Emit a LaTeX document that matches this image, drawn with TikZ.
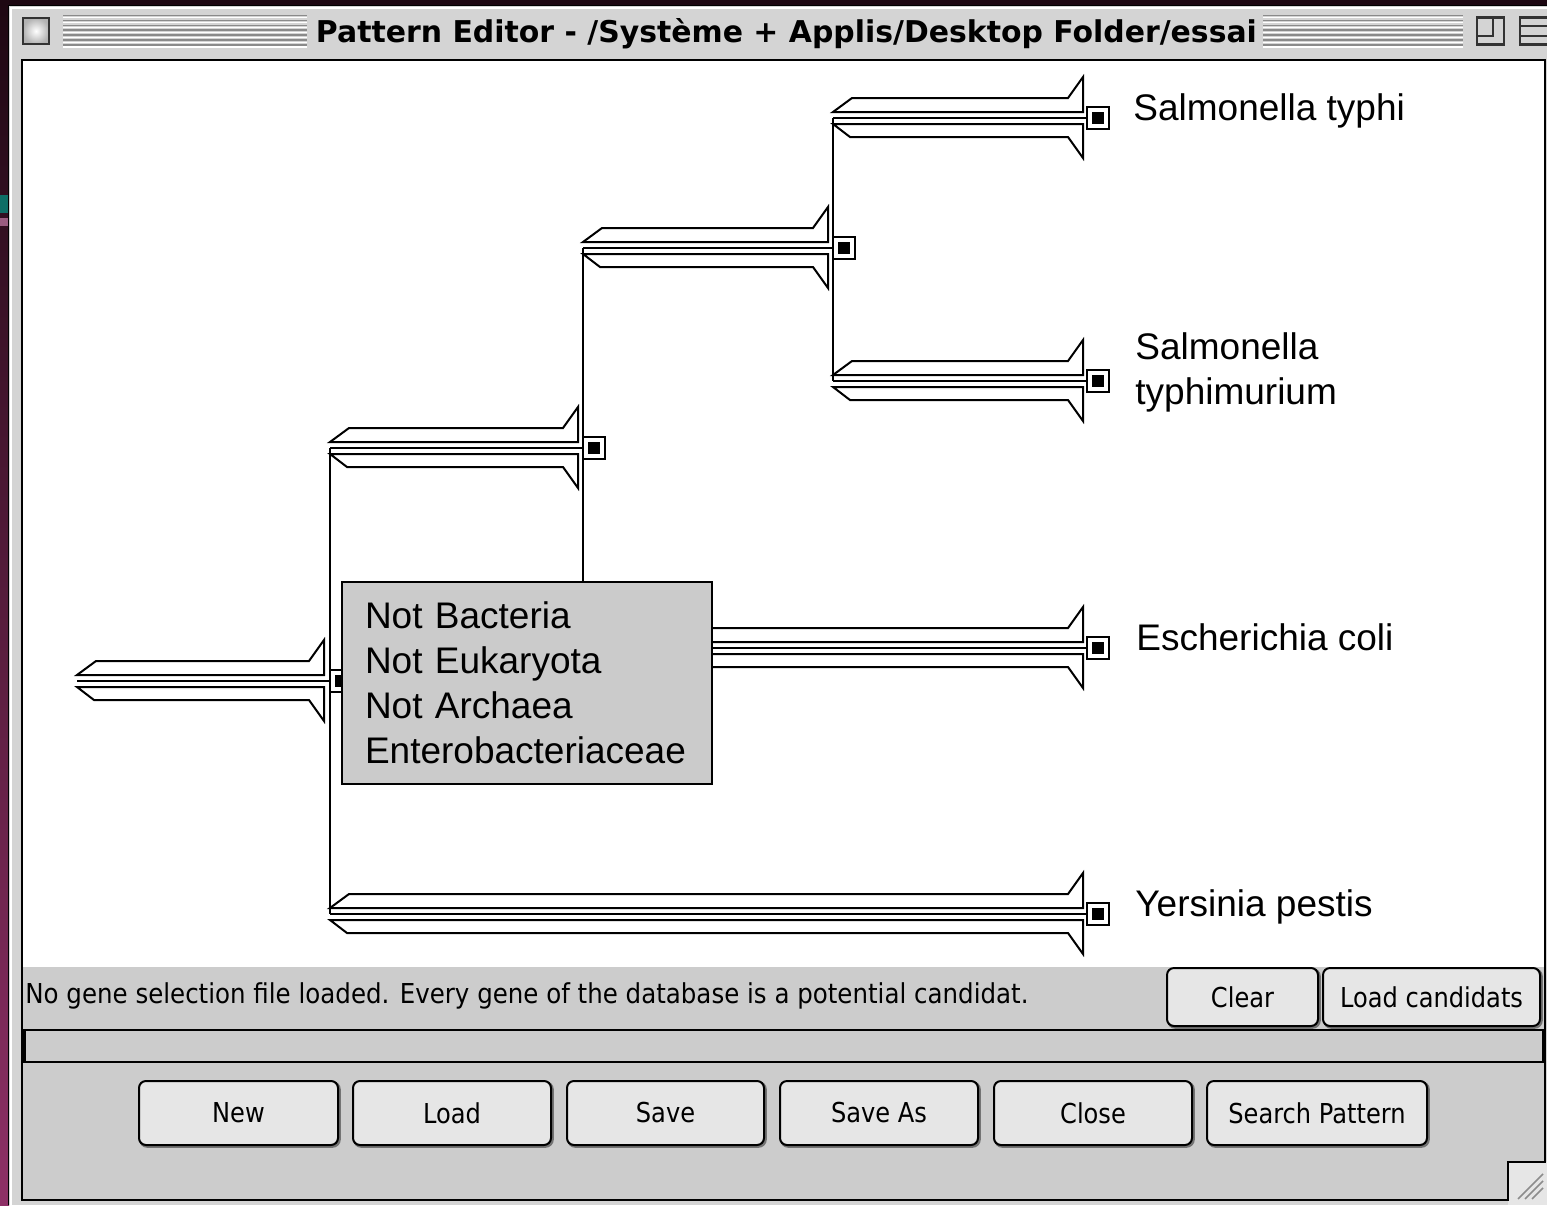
\documentclass[tikz,border=0pt]{standalone}
\usepackage{graphicx}
\usepackage{fontspec}
\setmainfont{Liberation Sans}
\newfontfamily\uifont{DejaVu Sans}

\definecolor{deskDark}{HTML}{1C0711}
\definecolor{deskTop}{HTML}{1E0812}
\definecolor{deskBottom}{HTML}{8E3066}
\definecolor{deskTeal}{HTML}{0E6E66}
\definecolor{deskPink}{HTML}{9A5C80}
\definecolor{winGray}{HTML}{D4D4D4}
\definecolor{panelGray}{HTML}{CCCCCC}
\definecolor{filterGray}{HTML}{CBCBCB}
\definecolor{btnFill}{HTML}{E6E6E6}
\definecolor{stripeGray}{HTML}{8A8A8A}

% one edge of the tree: start x, flare x, centre y (pixel units, y down)
\newcommand{\treebranch}[3]{%
  \draw[branchline] ({#1},{#3-6}) -- ({#1+19},{#3-20}) -- ({#2-15},{#3-20})
        -- ({#2},{#3-41}) -- ({#2},{#3-6}) -- cycle;
  \draw[branchline] ({#1},{#3+6}) -- ({#1+17},{#3+19}) -- ({#2-15},{#3+19})
        -- ({#2},{#3+40}) -- ({#2},{#3+6}) -- cycle;
  \draw[stemline] ({#1},{#3}) -- ({#2+6},{#3});
}
\newcommand{\btntext}[1]{\scalebox{0.88}[1]{#1}}

\begin{document}
\begin{tikzpicture}[x=0.5pt,y=-0.5pt,
  branchline/.style={draw=black, fill=white, line width=1pt, line join=miter},
  stemline/.style={draw=black, line width=1.3pt},
  joinline/.style={draw=black, line width=1pt},
  knob/.style={draw=black, line width=1pt, fill=white, minimum size=11pt,
    inner sep=0pt, path picture={\fill[black]
      ([shift={(2.4pt,2.4pt)}]path picture bounding box.south west) rectangle
      ([shift={(-2.4pt,-2.4pt)}]path picture bounding box.north east);}},
  leaflabel/.style={anchor=base west, inner sep=0pt, font=\fontsize{18.5}{22.5}\selectfont},
  filterbox/.style={draw=black, line width=1pt, fill=filterGray,
    minimum width=185pt, minimum height=101pt, text width=162pt, align=left,
    inner xsep=11.5pt, inner ysep=0pt, font=\fontsize{18.5}{22.5}\selectfont},
  macbtn/.style={draw=black, line width=1pt, fill=btnFill, rounded corners=3.5pt,
    inner sep=0pt, font=\uifont\fontsize{13.7}{16}\selectfont,
    preaction={draw=black!55, line width=1.4pt, transform canvas={shift={(0.7pt,-0.7pt)}}}},
  ]
\useasboundingbox (0,0) rectangle (1547,1205);

% desktop behind the window
\fill[deskDark] (0,0) rectangle (1547,1205);
\shade[top color=deskTop, bottom color=deskBottom] (0,0) rectangle (9,1205);
\fill[deskTeal] (0,195) rectangle (8,213);
\fill[deskPink] (0,218) rectangle (8,226);

% window frame
\fill[winGray] (8,5) rectangle (1547,1205);
\draw[black, line width=0.8pt] (8.5,1205) -- (8.5,5.5) -- (1547,5.5);
\draw[white, line width=1pt] (11,1205) -- (11,8) -- (1547,8);

% title bar stripes
\foreach \k in {0,...,6} {
  \draw[stripeGray, line width=0.8pt] (63,{15.5+4.9*\k}) -- (307,{15.5+4.9*\k});
  \draw[stripeGray, line width=0.8pt] (1263,{15.5+4.9*\k}) -- (1463,{15.5+4.9*\k});
  \draw[white, line width=0.6pt] (63,{17.6+4.9*\k}) -- (307,{17.6+4.9*\k});
  \draw[white, line width=0.6pt] (1263,{17.6+4.9*\k}) -- (1463,{17.6+4.9*\k});
}
\node[draw=black!80, line width=1.2pt, minimum size=13pt, inner sep=0pt,
      inner color=white, outer color=black!30] (closebox) at (36,31) {};
\node[draw=black!80, line width=1.1pt, minimum size=13.5pt, inner sep=0pt,
      fill=winGray] (zoombox) at (1490.5,31) {};
\draw[black!80, line width=1pt] (1476,36) -- (1493,36) -- (1493,17);
\node[draw=black!80, line width=1.1pt, minimum width=15pt, minimum height=13.5pt,
      inner sep=0pt, fill=winGray] (shadebox) at (1535,31) {};
\draw[black!80, line width=1pt] (1520,26) -- (1550,26);
\draw[black!80, line width=1pt] (1520,36) -- (1550,36);

\node[anchor=base, inner sep=0pt] (title) at (786.5,42)
  {\resizebox{470.5pt}{\height}{\uifont\bfseries\fontsize{15}{18}\selectfont
   Pattern Editor - /Système + Applis/Desktop Folder/essai}};

% content area
\fill[white] (22,60) rectangle (1545,967);
\fill[panelGray] (22,967) rectangle (1545,1200);
\fill[btnFill] (1508,1162) rectangle (1547,1205);
\draw[black, line width=1pt] (22,60) -- (1545,60) -- (1545,1162) -- (1508,1162)
      -- (1508,1200) -- (22,1200) -- cycle;
\foreach \d in {0,7,14} {
  \draw[black!45, line width=0.8pt] ({1518+\d},1199) -- (1543,{1174+\d});
}

% tree: join points
\coordinate (aStart) at (330,448);
\coordinate (yStart) at (330,914);
\coordinate (bStart) at (583,248);
\coordinate (eStart) at (583,648);
\coordinate (tStart) at (833,118);
\coordinate (mStart) at (833,381);
\draw[joinline] (aStart) -- (yStart);
\draw[joinline] (bStart) -- (eStart);
\draw[joinline] (tStart) -- (mStart);

% tree: edges
\treebranch{77}{324}{681}
\treebranch{330}{578}{448}
\treebranch{583}{828}{248}
\treebranch{833}{1083}{118}
\treebranch{833}{1083}{381}
\treebranch{583}{1083}{648}
\treebranch{330}{1083}{914}

% tree: node handles
\node[knob] (rootKnob) at (341,681) {};
\node[knob] (aKnob) at (594,448) {};
\node[knob] (bKnob) at (844,248) {};
\node[knob] (typhiKnob) at (1098,118) {};
\node[knob] (typhimKnob) at (1098,381) {};
\node[knob] (coliKnob) at (1098,648) {};
\node[knob] (pestisKnob) at (1098,914) {};

% leaf names
\node[leaflabel] (typhiLabel) at (1133,120) {Salmonella typhi};
\node[leaflabel] (typhimLabelA) at (1135,359) {Salmonella};
\node[leaflabel] (typhimLabelB) at (1135,404) {typhimurium};
\node[leaflabel] (coliLabel) at (1136,650) {Escherichia coli};
\node[leaflabel] (pestisLabel) at (1135,916) {Yersinia pestis};

% constraint box of the root
\node[filterbox] (filter) at (527,683)
  {Not Bacteria\\Not Eukaryota\\Not Archaea\\Enterobacteriaceae};

% status line and progress bar
\node[anchor=base west, inner sep=0pt] (status) at (25,1003)
  {\resizebox{501.5pt}{\height}{\uifont\fontsize{13.7}{16}\selectfont
   No gene selection file loaded. Every gene of the database is a potential candidat.}};
\draw[black, line width=1pt, fill=panelGray] (22,1030) rectangle (1543,1062);
\fill[black] (22,1030) rectangle (26,1062);

% buttons
\node[macbtn, minimum width=75.5pt, minimum height=29pt] (clearBtn) at (1242.5,997) {\btntext{Clear}};
\node[macbtn, minimum width=108.5pt, minimum height=29pt] (candBtn) at (1431.5,997) {\btntext{Load candidats}};
\node[macbtn, minimum width=99.5pt, minimum height=32pt] (newBtn) at (238.5,1113) {\btntext{New}};
\node[macbtn, minimum width=99pt, minimum height=32pt] (loadBtn) at (452,1113) {\btntext{Load}};
\node[macbtn, minimum width=98.5pt, minimum height=32pt] (saveBtn) at (665.5,1113) {\btntext{Save}};
\node[macbtn, minimum width=99pt, minimum height=32pt] (saveAsBtn) at (879,1113) {\btntext{Save As}};
\node[macbtn, minimum width=99pt, minimum height=32pt] (closeBtn) at (1093,1113) {\btntext{Close}};
\node[macbtn, minimum width=110pt, minimum height=32pt] (searchBtn) at (1317,1113) {\btntext{Search Pattern}};
\end{tikzpicture}
\end{document}
